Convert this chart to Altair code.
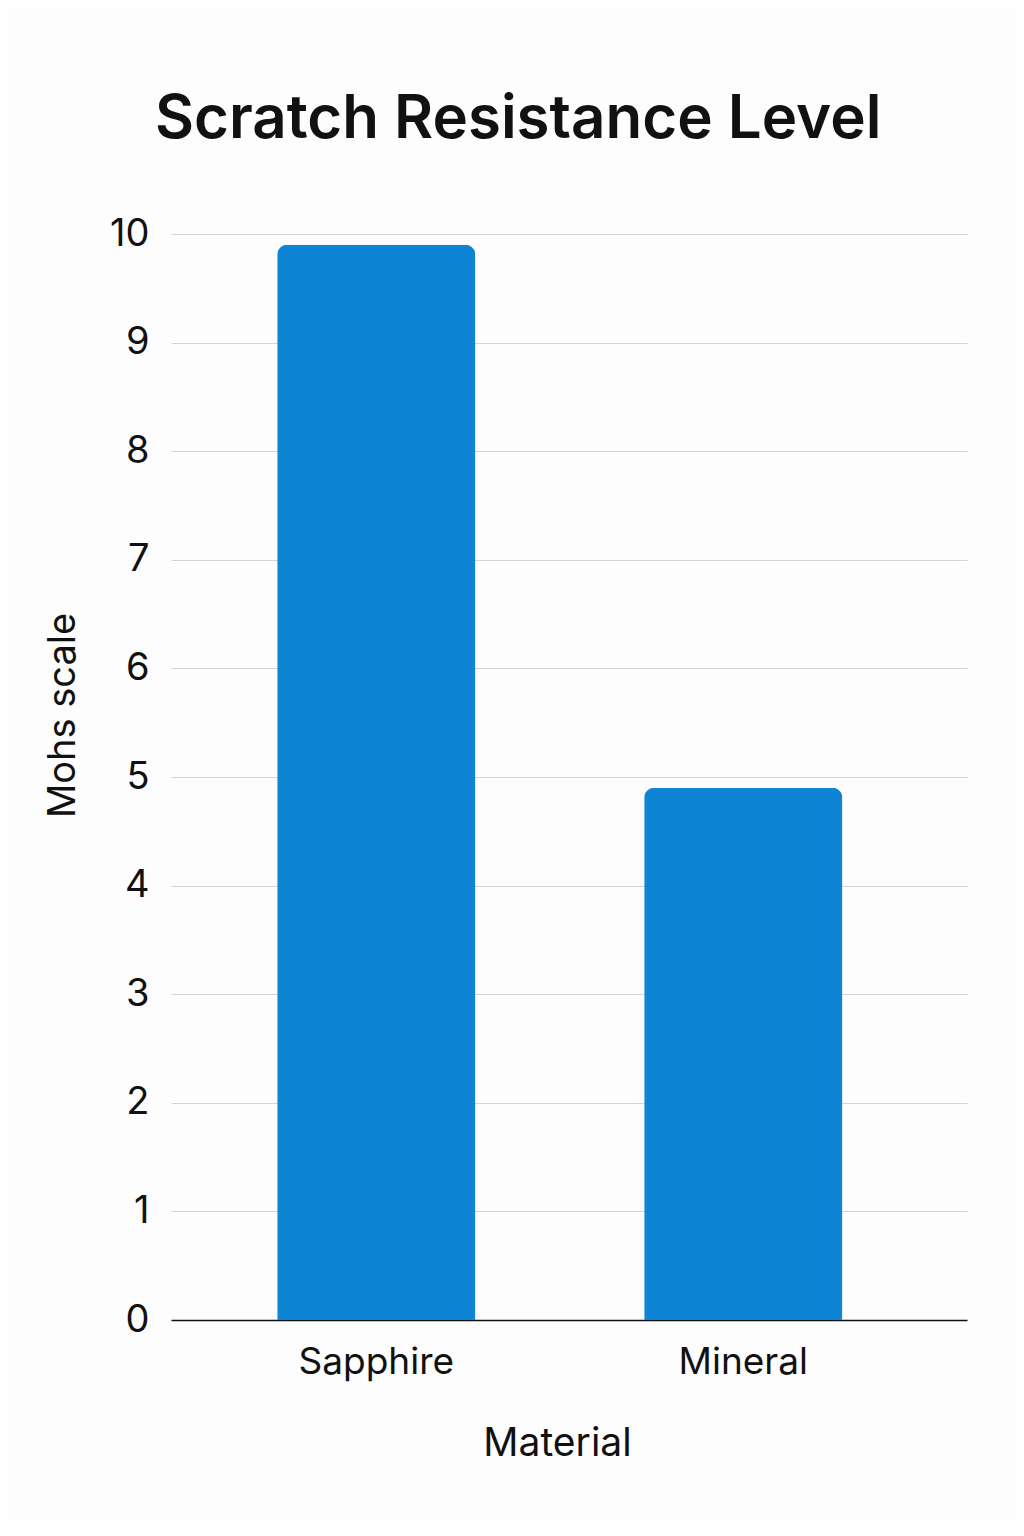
import altair as alt
import pandas as pd

materials = ["Sapphire", "Mineral"]
mohs = [9.9, 4.9]

df = pd.DataFrame({"Material": materials, "Mohs": mohs})

FONT = "Inter"

chart = (
    alt.Chart(df)
    .mark_bar(color="#0E84D4", cornerRadiusTopLeft=10, cornerRadiusTopRight=10)
    .encode(
        x=alt.X(
            "Material:N",
            sort=materials,
            scale=alt.Scale(paddingInner=0.46, paddingOuter=0.3145, align=0.46),
            axis=alt.Axis(
                title="Material",
                labelAngle=0,
                labelFontSize=37,
                labelFont=FONT,
                labelColor="#111111",
                labelPadding=24,
                ticks=False,
                domainColor="#111111",
                domainWidth=1.5,
                titleFontSize=39,
                titleFont=FONT,
                titleFontWeight="normal",
                titleColor="#111111",
                titleX=386,
                titleY=123,
                titleBaseline="middle",
                titleAnchor="start",
                titleAlign="center",
            ),
        ),
        y=alt.Y(
            "Mohs:Q",
            scale=alt.Scale(domain=[0, 10]),
            axis=alt.Axis(
                title="Mohs scale",
                values=list(range(0, 11)),
                labelFontSize=38,
                labelFont=FONT,
                labelColor="#111111",
                labelPadding=22,
                ticks=False,
                domain=False,
                gridColor="#D4D4D4",
                gridWidth=1.2,
                titleFontSize=38,
                titleFont=FONT,
                titleFontWeight="normal",
                titleColor="#111111",
                titleX=-108,
                titleY=481,
                titleBaseline="middle",
                titleAngle=-90,
                titleAlign="center",
            ),
        ),
    )
    .properties(
        width=796,
        height=1086,
        background="#FDFDFD",
        padding={"left": 163, "top": 226, "right": 49, "bottom": 200},
        autosize=alt.AutoSizeParams(type="none"),
        title=alt.TitleParams(
            "Scratch Resistance Level",
            font=FONT,
            fontSize=60,
            fontWeight=600,
            color="#111111",
            anchor="start",
            frame="group",
            dx=-16,
            offset=64,
        ),
    )
    .configure_view(stroke=None)
)

chart.save("out.html", embed_options={"renderer": "svg", "actions": False})
